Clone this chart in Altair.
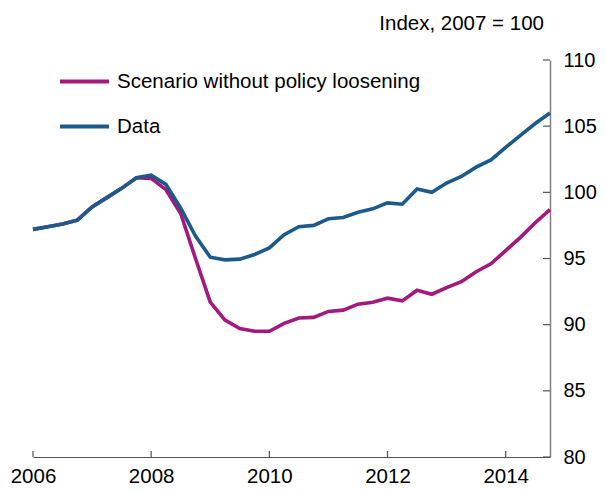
import altair as alt
import pandas as pd

quarters = [2006 + 0.25 * i for i in range(36)]

data_series = [97.2, 97.4, 97.6, 97.9, 98.9, 99.6, 100.3, 101.1,
               101.3, 100.6, 98.8, 96.7, 95.1, 94.9, 94.95, 95.3,
               95.8, 96.8, 97.4, 97.5, 98.0, 98.1, 98.5, 98.75,
               99.2, 99.1, 100.25, 100.0, 100.7, 101.2, 101.9, 102.45,
               103.4, 104.3, 105.2, 106.0]

scenario_series = [97.2, 97.4, 97.6, 97.9, 98.9, 99.6, 100.3, 101.1,
                   101.05, 100.2, 98.4, 95.0, 91.7, 90.35, 89.7, 89.5,
                   89.5, 90.1, 90.5, 90.55, 91.0, 91.1, 91.55, 91.7,
                   92.0, 91.8, 92.6, 92.3, 92.8, 93.25, 94.0, 94.6,
                   95.6, 96.6, 97.7, 98.7]

series_names = ["Scenario without policy loosening", "Data"]
series_colors = ["#A3197D", "#1D5A8C"]

x_ticks = [2006, 2008, 2010, 2012, 2014]
y_ticks = [80, 85, 90, 95, 100, 105, 110]

W, H = 517, 397
FONT = "Liberation Sans"

df_scen = pd.DataFrame({"t": quarters, "v": scenario_series, "s": series_names[0]})
df_data = pd.DataFrame({"t": quarters, "v": data_series, "s": series_names[1]})

xscale = alt.Scale(domain=[2006, 2014.75], nice=False, zero=False)
yscale = alt.Scale(domain=[80, 110], nice=False, zero=False)
cscale = alt.Scale(domain=series_names, range=series_colors)

x_enc = alt.X("t:Q", scale=xscale,
              axis=alt.Axis(values=x_ticks, format="d", title=None, grid=False,
                            tickSize=0, labelPadding=9, domainColor="#555555",
                            domainWidth=1.2, labelFontSize=20.5, labelFont=FONT,
                            labelColor="black", labelFlush=False))
y_enc = alt.Y("v:Q", scale=yscale,
              axis=alt.Axis(values=y_ticks, orient="right", title=None, grid=False,
                            tickSize=0, labelPadding=13, domainColor="#808080",
                            domainWidth=1.5, labelFontSize=20, labelFont=FONT,
                            labelColor="black", labelBaseline="middle"))

color_enc = alt.Color("s:N", scale=cscale,
                      legend=alt.Legend(title=None, orient="none", legendX=25, legendY=-5,
                                        symbolType="stroke", symbolSize=2400,
                                        symbolStrokeWidth=4, labelFontSize=20.5,
                                        labelFont=FONT, labelOffset=6, rowPadding=8,
                                        padding=0, labelColor="black", labelLimit=0))

scen = alt.Chart(df_scen).mark_line(strokeWidth=3.6).encode(x=x_enc, y=y_enc, color=color_enc)
dat = alt.Chart(df_data).mark_line(strokeWidth=3.6).encode(x=x_enc, y=y_enc, color=color_enc)

xt = alt.Chart(pd.DataFrame({"t": x_ticks})).mark_rule(color="#555555", strokeWidth=1.2).encode(
    x=alt.X("t:Q", scale=xscale), y=alt.value(H), y2=alt.value(H - 6))
yt = alt.Chart(pd.DataFrame({"v": y_ticks})).mark_rule(color="#555555", strokeWidth=1.2).encode(
    y=alt.Y("v:Q", scale=yscale), x=alt.value(W - 7), x2=alt.value(W))

chart = alt.layer(scen, dat, xt, yt).properties(
    width=W, height=H,
    title=alt.TitleParams("Index, 2007 = 100", anchor="end", frame="group", fontSize=20.5,
                          font=FONT, fontWeight="normal", color="black", offset=16, dx=-6),
    padding={"left": 25, "top": 52, "right": 48, "bottom": 28},
    autosize=alt.AutoSizeParams(type="none"),
).configure_view(stroke=None).configure_axis(ticks=False)

chart.save("out.html", embed_options={"renderer": "svg", "actions": False})
